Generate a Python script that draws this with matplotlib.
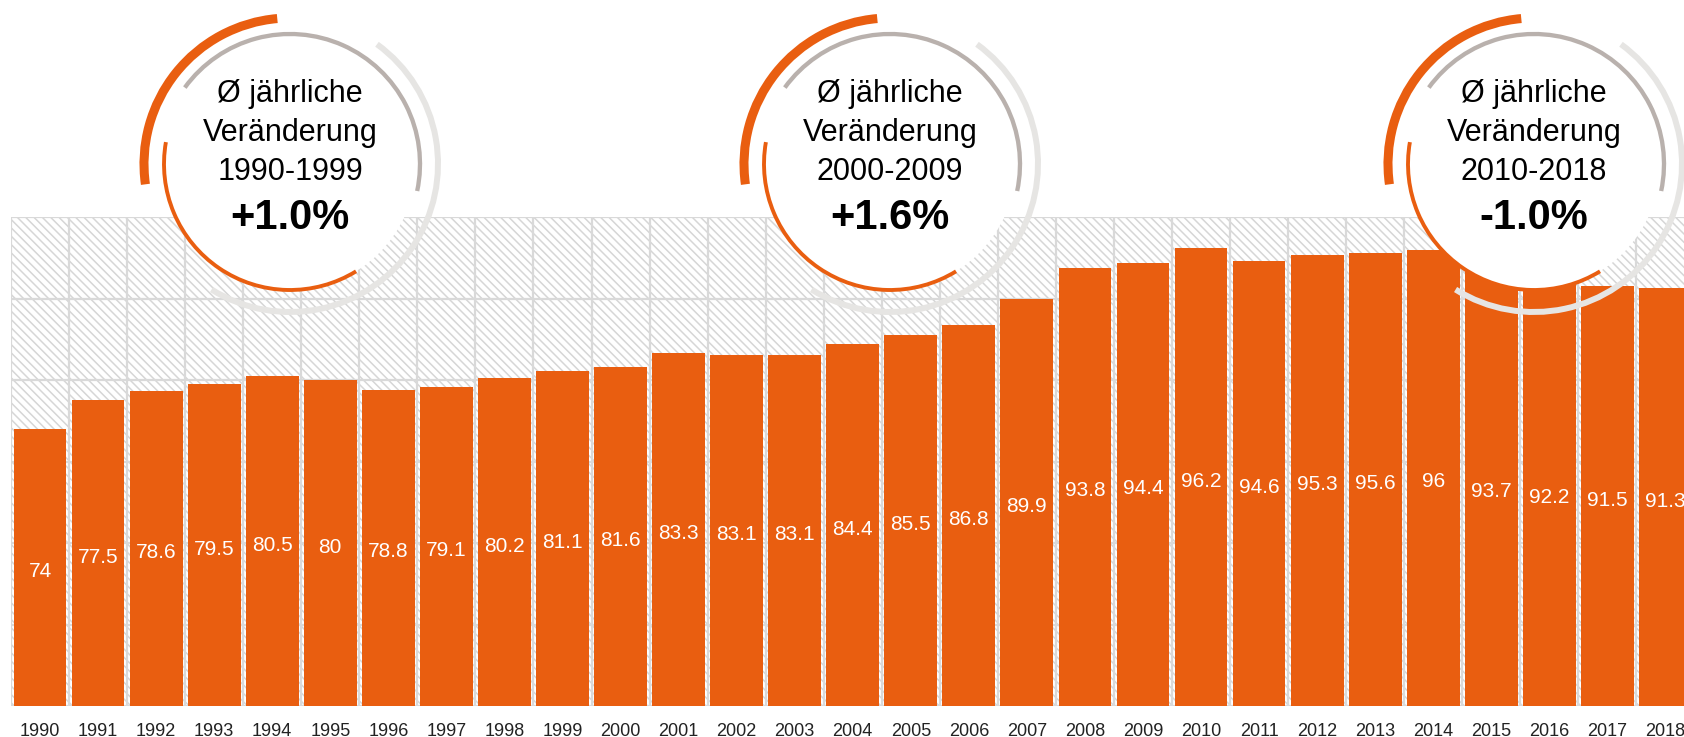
####################
# Imports
####################

import numpy as np
import matplotlib
matplotlib.use("Agg")
import matplotlib.pyplot as plt
from matplotlib.patches import Rectangle, Circle, Arc


####################
# Data
####################

years = [str(y) for y in range(1990, 2019)]
values = [74, 77.5, 78.6, 79.5, 80.5, 80, 78.8, 79.1, 80.2, 81.1,
          81.6, 83.3, 83.1, 83.1, 84.4, 85.5, 86.8, 89.9, 93.8, 94.4,
          96.2, 94.6, 95.3, 95.6, 96, 93.7, 92.2, 91.5, 91.3]

periods = ["1990-1999", "2000-2009", "2010-2018"]
changes = ["+1.0%", "+1.6%", "-1.0%"]


####################
# Style
####################

orange = "#E95E10"
mid_gray = "#B9B1AD"
light_gray = "#E6E5E3"
grid_gray = "#D9D9D9"

plt.rcParams['font.family'] = ['Liberation Sans', 'DejaVu Sans']
plt.rcParams['hatch.linewidth'] = 1.1

W, H = 1684, 737
fig = plt.figure(figsize=(W / 100, H / 100), dpi=100, facecolor="white")


####################
# Bars
####################

# axes is a little wider than the picture, the last bar gets cut like in the original
ax = fig.add_axes([11 / W, 31 / H, 29 * 58.05 / W, 489 / H])
x = np.arange(len(years))

# hatched background
ax.add_patch(Rectangle((0, 0), 1, 1, transform=ax.transAxes, facecolor="white",
                       edgecolor="#D6D6D6", hatch="\\\\\\\\", lw=0, zorder=0.2))

ax.bar(x, [v - 40 for v in values], bottom=40, width=0.91, color=orange, zorder=2)

for i, v in enumerate(values):
    ax.text(i, (40 + v) / 2 - 0.5, "{:g}".format(v), ha="center", va="center",
            color="white", fontsize=15, zorder=3)

ax.set_xlim(-0.5, len(years) - 0.5)
ax.set_ylim(40, 100)
ax.set_yticks(range(40, 101, 10))
ax.set_xticks(x)
ax.set_xticklabels(years, fontsize=13, color="#222222")
ax.set_xticks(np.arange(-0.5, len(years), 1), minor=True)
ax.tick_params(axis="both", which="both", length=0)
ax.tick_params(axis="x", pad=12)
ax.tick_params(axis="y", labelleft=False)
ax.set_axisbelow(True)
ax.grid(which="major", axis="y", color=grid_gray, lw=1.6)
ax.grid(which="minor", axis="x", color=grid_gray, lw=1.6)
ax.grid(which="major", axis="x", visible=False)
for s in ax.spines.values():
    s.set_visible(False)


####################
# Circles
####################

# overlay in pixel coordinates, y going up
ov = fig.add_axes([0, 0, 1, 1])
ov.set_xlim(0, W)
ov.set_ylim(0, H)
ov.set_facecolor("none")
ov.axis("off")

centers_x = [290, 890, 1534]
cy = H - 164

for cx, period, change in zip(centers_x, periods, changes):
    ov.add_patch(Circle((cx, cy), 126, facecolor="white", edgecolor="none", zorder=1))
    ov.add_patch(Arc((cx, cy), 252, 252, theta1=170, theta2=301.6, color=orange, lw=2.8, zorder=2))
    ov.add_patch(Arc((cx, cy), 260, 260, theta1=-12, theta2=144, color=mid_gray, lw=3.1, zorder=2))
    ov.add_patch(Arc((cx, cy), 292, 292, theta1=95, theta2=188, color=orange, lw=6.5, zorder=2))
    ov.add_patch(Arc((cx, cy), 296, 296, theta1=238, theta2=414, color=light_gray, lw=4.3, zorder=2))

    ov.text(cx, H - 102, "Ø jährliche", ha="center", va="baseline", fontsize=22, zorder=3)
    ov.text(cx, H - 141, "Veränderung", ha="center", va="baseline", fontsize=22, zorder=3)
    ov.text(cx, H - 180, period, ha="center", va="baseline", fontsize=22, zorder=3)
    ov.text(cx, H - 229, change, ha="center", va="baseline", fontsize=30,
            fontweight="bold", zorder=3)

fig.savefig("out.png", dpi=100, facecolor="white")
